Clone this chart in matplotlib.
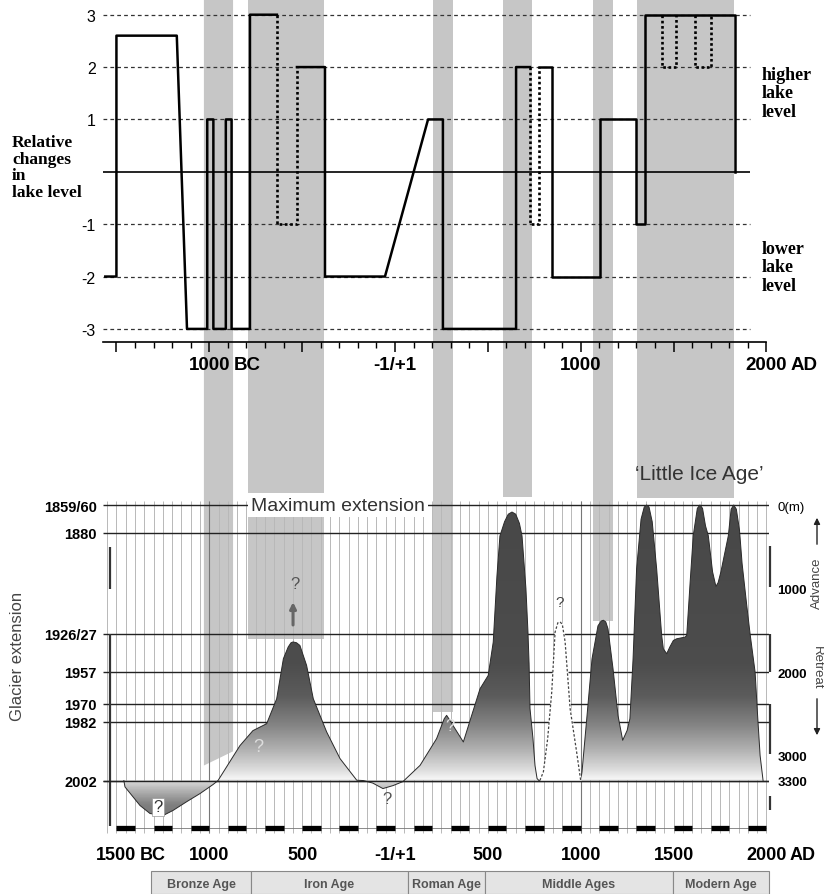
import numpy as np
import matplotlib
matplotlib.use("Agg")
import matplotlib.pyplot as plt
import matplotlib.transforms as mtransforms
from matplotlib.patches import Polygon, Rectangle, FancyArrowPatch
from matplotlib.colors import LinearSegmentedColormap

plt.rcParams['font.family'] = ['Liberation Sans', 'DejaVu Sans']

# ---------------- upper panel: relative lake level ----------------
lake_ticks = [3, 2, 1, -1, -2, -3]
lake_tick_labels = ['3', '2', '1', '-1', '-2', '-3']

lake_solid_1_yr = [-1560, -1500, -1500, -1175, -1120, -1011, -1011, -978, -978, -911, -911, -880, -880, -781, -781, -636]
lake_solid_1_lv = [-2, -2, 2.6, 2.6, -3, -3, 1, 1, -3, -3, 1, 1, -3, -3, 3, 3]
lake_dot_1_yr = [-636, -636, -528, -528]
lake_dot_1_lv = [3, -1, -1, 2]
lake_solid_2_yr = [-528, -377, -377, -54, 178, 258, 258, 652, 652, 727]
lake_solid_2_lv = [2, 2, -2, -2, 1, 1, -3, -3, 2, 2]
lake_dot_2_yr = [727, 727, 776, 776]
lake_dot_2_lv = [2, -1, -1, 2]
lake_solid_3_yr = [776, 845, 845, 1104, 1104, 1298, 1298, 1346, 1346, 1831, 1831]
lake_solid_3_lv = [2, 2, -2, -2, 1, 1, -1, -1, 3, 3, 0]
lake_dot_3_yr = [1438, 1438, 1513, 1513]
lake_dot_3_lv = [3, 2, 2, 3]
lake_dot_4_yr = [1616, 1616, 1702, 1702]
lake_dot_4_lv = [3, 2, 2, 3]

top_ticks = [-1500, -1000, -500, 0, 500, 1000, 1500, 2000]
top_tick_labels = ['', '1000', '', '-1/+1', '', '1000', '', '2000']

# ---------------- grey periods (years) ----------------
band_start = [-1029, -792, 205, 582, 1066, 1303]
band_end = [-872, -382, 312, 738, 1174, 1826]
band_low_left = [3120, 1600, 2475, -96, 1390, -85]    # where the band stops (m, lower panel)
band_low_right = [2950, 1600, 2475, -96, 1390, -85]

# ---------------- lower panel: glacier extension ----------------
mark_m = [0, 335, 1540, 1997, 2380, 2595, 3300]
mark_labels = ['1859/60', '1880', '1926/27', '1957', '1970', '1982', '2002']
depth_ticks = [0, 1000, 2000, 3000, 3300]
depth_labels = ['0(m)', '1000', '2000', '3000', '3300']

glacier_yr = [-1460, -1454, -1373, -1319, -1249, -1196, -1120, -1050, -980, -953, -889, -835,
              -765, -691, -637, -601, -575, -560, -549, -530, -512, -476, -440, -368, -296, -206, -170,
              -120, -65, -10, 43, 135, 224, 265, 278, 290, 323, 368, 413, 458, 502, 529, 549, 565,
              590, 610, 630, 650, 670, 684, 705, 716, 722, 727, 743, 754, 765, 775, 1000, 1007,
              1034, 1061, 1093, 1110, 1122, 1135, 1147, 1174, 1201, 1226, 1250, 1265, 1282, 1301,
              1325, 1342, 1355, 1368, 1385, 1409, 1436, 1445, 1463, 1480, 1499, 1517, 1562, 1571,
              1590, 1606, 1628, 1642, 1656, 1672, 1687, 1710, 1728, 1740, 1755, 1795, 1810, 1824,
              1838, 1855, 1869, 1894, 1912, 1939, 1952, 1966, 1982]
glacier_m = [3300, 3376, 3599, 3695, 3719, 3659, 3551, 3456, 3348, 3300, 3073, 2882,
             2702, 2619, 2320, 1841, 1700, 1650, 1640, 1650, 1682, 1921, 2320, 2718, 3037, 3296, 3300,
             3330, 3396, 3360, 3312, 3118, 2798, 2560, 2519, 2560, 2678, 2838, 2519, 2200, 2041, 1642, 849, 371,
             200, 110, 84, 110, 220, 371, 1000, 1522, 1900, 2439, 2798, 3121, 3276, 3300, 3300, 3196,
             2523, 1841, 1447, 1390, 1380, 1400, 1483, 1961, 2523, 2818, 2700, 2559, 1841, 765,
             170, 25, 0, 25, 200, 765, 1562, 1722, 1781, 1700, 1622, 1602, 1582, 1562,
             900, 367, 40, 0, 40, 250, 367, 800, 975, 930, 800, 367, 50,
             0, 50, 300, 700, 1200, 1543, 2000, 2500, 3000, 3300]

uncertain_yr = [780, 799, 822, 844, 862, 877, 889, 901, 916, 943, 978, 1000]
uncertain_m = [3300, 3196, 2800, 2240, 1522, 1410, 1400, 1430, 1638, 2439, 2957, 3300]

bottom_ticks = [-1500, -1000, -500, 0, 500, 1000, 1500, 2000]
bottom_tick_labels = ['1500', '1000', '500', '-1/+1', '500', '1000', '1500', '2000']

age_names = ['Bronze Age', 'Iron Age', 'Roman Age', 'Middle Ages', 'Modern Age']
age_bounds = [-1314, -775, 70, 485, 1497, 2014]

# ---------------- figure ----------------
W, H = 824, 895
fig = plt.figure(figsize=(W / 100, H / 100), dpi=100)
X0, X1 = -1575, 2015
ax_top = fig.add_axes([102.5 / W, 1 - 343 / H, 666.7 / W, 343 / H])
ax_bot = fig.add_axes([102.5 / W, 1 - 840 / H, 666.7 / W, 339 / H])
for a in (ax_top, ax_bot):
    a.set_facecolor('none')
    for s in a.spines.values():
        s.set_visible(False)

# upper panel
ax_top.hlines(lake_ticks, -1570, 1910, colors='#333333', linestyles=(0, (3, 2.5)), lw=0.9, zorder=1)
ax_top.hlines(0, -1570, 1910, colors='black', lw=1.2, zorder=1)
for xs, ys in [(lake_solid_1_yr, lake_solid_1_lv), (lake_solid_2_yr, lake_solid_2_lv),
               (lake_solid_3_yr, lake_solid_3_lv)]:
    ax_top.plot(xs, ys, color='black', lw=1.8, zorder=3)
for xs, ys in [(lake_dot_1_yr, lake_dot_1_lv), (lake_dot_2_yr, lake_dot_2_lv),
               (lake_dot_3_yr, lake_dot_3_lv), (lake_dot_4_yr, lake_dot_4_lv)]:
    ax_top.plot(xs, ys, color='black', lw=1.9, linestyle=(0, (1, 1)), zorder=3)

ax_top.set_xlim(X0, X1)
ax_top.set_ylim(-3.25, 3.3)
ax_top.spines['bottom'].set_visible(True)
ax_top.spines['bottom'].set_bounds(-1570, 2000)
ax_top.spines['bottom'].set_linewidth(1.2)
ax_top.set_xticks(top_ticks, labels=top_tick_labels)
ax_top.set_xticks(np.arange(-1500, 2001, 100), minor=True)
ax_top.tick_params(axis='x', which='major', length=7.5, width=1.1, pad=2.5, labelsize=13.5)
ax_top.tick_params(axis='x', which='minor', length=4.5, width=1)
for lbl in ax_top.get_xticklabels():
    lbl.set_fontweight('bold')
ax_top.set_yticks(lake_ticks, labels=lake_tick_labels)
ax_top.tick_params(axis='y', length=0, pad=5, labelsize=11.5)


def suffix(ax, x, s, size, dx, dy):
    ax.annotate(s, xy=(x, 0), xycoords=ax.get_xaxis_transform(), xytext=(dx, -dy),
                textcoords='offset pixels', ha='left', va='top', fontsize=size, fontweight='bold')


suffix(ax_top, -1000, 'BC', 13.5, 24, 14)
suffix(ax_top, 2000, 'AD', 13.5, 24, 14)

serif = ['Liberation Serif', 'DejaVu Serif']
fig.text(12 / W, 1 - 168 / H, 'Relative\nchanges\nin\nlake level', family=serif, weight='bold',
         fontsize=12.5, linespacing=1.05, ha='left', va='center')
fig.text(762 / W, 1 - 94 / H, 'higher\nlake\nlevel', family=serif, weight='bold',
         fontsize=13, linespacing=1.1, ha='left', va='center')
fig.text(762 / W, 1 - 268 / H, 'lower\nlake\nlevel', family=serif, weight='bold',
         fontsize=13, linespacing=1.1, ha='left', va='center')

# lower panel
ax_bot.vlines(np.arange(-1550, 2001, 50), -50, 3930, colors='#b8b8b8', lw=0.7, zorder=1)
ax_bot.vlines([-1000, 1000], -50, 3930, colors='#777777', lw=0.8, zorder=1)
ax_bot.hlines(mark_m, X0 + 5, X1, colors='#222222', lw=1.0, zorder=1.5)

shade_m = [-100, 1900, 2300, 2650, 2950, 3200, 3300, 3301, 3450, 3600, 3800]
shade_v = [0.28, 0.30, 0.36, 0.52, 0.70, 0.88, 0.97, 0.88, 0.68, 0.50, 0.45]
cmap = LinearSegmentedColormap.from_list(
    'glacier', [((m + 100) / 3900, (v, v, v)) for m, v in zip(shade_m, shade_v)])
shape = ax_bot.fill_between(glacier_yr, glacier_m, 3300, facecolor='none', edgecolor='none')
grad = np.linspace(-100, 3800, 600)[:, None]
im = ax_bot.imshow(grad, extent=(X0, X1, 3800, -100), origin='upper', aspect='auto',
                   cmap=cmap, vmin=-100, vmax=3800, zorder=2, interpolation='bilinear')
im.set_clip_path(shape.get_paths()[0], transform=ax_bot.transData)
ax_bot.plot(glacier_yr, glacier_m, color='#2a2a2a', lw=0.7, zorder=2.5)

ax_bot.fill_between(uncertain_yr, uncertain_m, 3300, color='white', zorder=3)
ax_bot.plot(uncertain_yr, uncertain_m, color='#444444', lw=0.9, linestyle=(0, (2, 1.5)), zorder=3.2)
ax_bot.hlines(3300, X0 + 5, X1, colors='#222222', lw=1.0, zorder=3.5)

# bottom time bar
dash_start = np.arange(-1500, 2000, 200)
ax_bot.hlines(3874, -1500, 2000, colors='#777777', lw=0.6, zorder=1.6)
ax_bot.hlines(np.full(len(dash_start), 3874), dash_start, dash_start + 100, colors='black',
              lw=3.8, zorder=1.7)

# broken frame pieces (ruler segments)
ax_bot.vlines([-1535, -1535], [500, 1540], [1000, 3840], colors='#333333', lw=1.6, zorder=1.8,
              clip_on=False)
ax_bot.vlines([2019, 2019, 2019, 2019], [490, 1542, 2380, 3490], [980, 2000, 2980, 3650],
              colors='#333333', lw=1.6, zorder=1.8, clip_on=False)

# annotations
ax_bot.text(-307, 0, 'Maximum extension', fontsize=14, color='#333333', ha='center', va='center',
            zorder=5, bbox=dict(facecolor='white', edgecolor='none', pad=2.5))
ax_bot.text(1637, -383, '\u2018Little Ice Age\u2019', fontsize=15, color='#333333',
            ha='center', va='center', zorder=5)
ax_bot.text(-538, 945, '?', fontsize=12, color='#555555', ha='center', va='center', zorder=5)
ax_bot.annotate('', xy=(-549, 1130), xytext=(-549, 1470),
                arrowprops=dict(arrowstyle='-|>', color='#666666', lw=2.2, mutation_scale=9), zorder=5)
ax_bot.text(-737, 2894, '?', fontsize=13, color='#dddddd', ha='center', va='center', zorder=5)
ax_bot.text(-1275, 3615, '?', fontsize=12, color='#333333', ha='center', va='center', zorder=5,
            bbox=dict(facecolor='white', edgecolor='#999999', pad=1.0, lw=0.5))
ax_bot.text(-45, 3515, '?', fontsize=12, color='#555555', ha='center', va='center', zorder=5)
ax_bot.text(296, 2642, '?', fontsize=12, color='#e0e0e0', ha='center', va='center', zorder=5)
ax_bot.text(889, 1163, '?', fontsize=11, color='#444444', ha='center', va='center', zorder=5)

ax_bot.set_xlim(X0, X1)
ax_bot.set_ylim(4000, -60)
ax_bot.set_xticks(bottom_ticks, labels=bottom_tick_labels)
ax_bot.tick_params(axis='x', length=0, pad=4.8, labelsize=13)
for lbl in ax_bot.get_xticklabels():
    lbl.set_fontweight('bold')
suffix(ax_bot, -1500, 'BC', 13, 23, 6.7)
suffix(ax_bot, 2000, 'AD', 13, 23, 6.7)
ax_bot.set_yticks(mark_m, labels=mark_labels)
ax_bot.tick_params(axis='y', length=0, pad=4, labelsize=10.5)
for lbl in ax_bot.get_yticklabels():
    lbl.set_fontweight('bold')

ax_r = ax_bot.twinx()
ax_r.set_facecolor('none')
for s in ax_r.spines.values():
    s.set_visible(False)
ax_r.set_ylim(4000, -60)
ax_r.set_yticks(depth_ticks, labels=depth_labels)
ax_r.tick_params(axis='y', length=0, pad=6, labelsize=9.5)
for lbl in ax_r.get_yticklabels()[1:]:
    lbl.set_fontweight('bold')

fig.text(18 / W, 1 - 656 / H, 'Glacier extension', rotation=90, fontsize=12, color='#444444',
         ha='center', va='center')
fig.text(817 / W, 1 - 583 / H, 'Advance', rotation=90, fontsize=9.5, color='#444444',
         ha='center', va='center')
fig.text(817 / W, 1 - 668 / H, 'Retreat', rotation=270, fontsize=9.5, color='#444444',
         ha='center', va='center')
fig.add_artist(FancyArrowPatch((817 / W, 1 - 548 / H), (817 / W, 1 - 516 / H),
               transform=fig.transFigure, arrowstyle='-|>', mutation_scale=9, lw=1, color='#222222'))
fig.add_artist(FancyArrowPatch((817 / W, 1 - 697 / H), (817 / W, 1 - 739 / H),
               transform=fig.transFigure, arrowstyle='-|>', mutation_scale=9, lw=1, color='#222222'))

# grey periods running through both panels
tr_fx = mtransforms.blended_transform_factory(ax_bot.transData, fig.transFigure)


def m_to_fig(m):
    return fig.transFigure.inverted().transform(ax_bot.transData.transform((0, m)))[1]


for x0, x1, lo_l, lo_r in zip(band_start, band_end, band_low_left, band_low_right):
    verts = [(x0, 1.0), (x1, 1.0), (x1, m_to_fig(lo_r)), (x0, m_to_fig(lo_l))]
    fig.add_artist(Polygon(verts, closed=True, transform=tr_fx, facecolor='#c6c6c6',
                           edgecolor='none', zorder=-1))

# period table
row_top = 1 - 872 / H
for i, name in enumerate(age_names):
    a0, a1 = age_bounds[i], age_bounds[i + 1]
    fig.add_artist(Rectangle((a0, 0), a1 - a0, row_top, transform=tr_fx,
                             facecolor='#e4e4e4', edgecolor='#888888', lw=0.8, zorder=1))
    fig.text((a0 + a1) / 2, 1 - 885 / H, name, transform=tr_fx, fontsize=9, fontweight='bold',
             color='#555555', ha='center', va='center', zorder=2)

fig.savefig('out.png', dpi=100)
